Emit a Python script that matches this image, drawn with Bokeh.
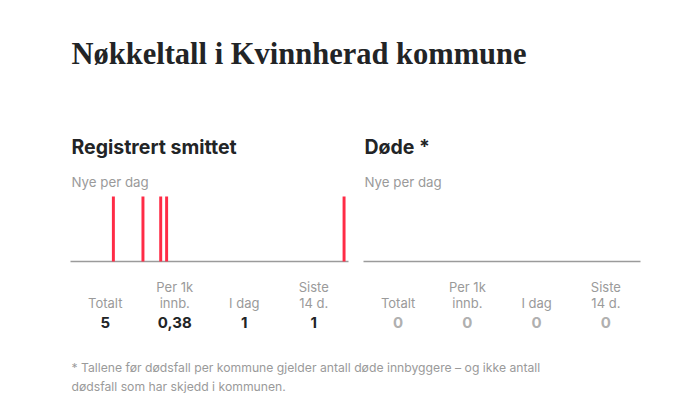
from bokeh.plotting import figure
from bokeh.models import Range1d
from bokeh.core.properties import value
from bokeh.embed import file_html
from bokeh.resources import INLINE

# ---- data ----
title = "Nøkkeltall i Kvinnherad kommune"
panel_titles = ["Registrert smittet", "Døde *"]
sub_label = "Nye per dag"
n_days = 94
case_days = [14, 24, 30, 32, 92]
case_counts = [1, 1, 1, 1, 1]
death_days = []
death_counts = []
stat_line1 = ["", "Per 1k", "", "Siste"]
stat_line2 = ["Totalt", "innb.", "I dag", "14 d."]
case_stats = ["5", "0,38", "1", "1"]
death_stats = ["0", "0", "0", "0"]
footnote = ["* Tallene før dødsfall per kommune gjelder antall døde innbyggere – og ikke antall",
            "dødsfall som har skjedd i kommunen."]

W, H = 682, 397
SANS = value("Inter")
DARK = "#222426"
GREY = "#9a9a9a"

p = figure(width=W, height=H, output_backend="svg", toolbar_location=None,
           x_range=Range1d(0, W), y_range=Range1d(H, 0), min_border=0)
p.axis.visible = False
p.grid.visible = False
p.outline_line_color = None

def X(px):
    return px

def Y(py):
    return py

# chart panels (page coords)
panels = [dict(x0=70, x1=348), dict(x0=363, x1=640)]
bar_top, bar_base = 196, 261

for i, pan in enumerate(panels):
    k = (pan["x1"] - pan["x0"]) / n_days
    xs = -0.5 - X(pan["x0"]) / k
    p.extra_x_ranges["d%d" % i] = Range1d(xs, xs + W / k)
ky = bar_base - bar_top
ys = -(H - Y(bar_base)) / ky
p.extra_y_ranges["v"] = Range1d(ys, ys + H / ky)

# baselines
for i in range(2):
    p.line(x=[-0.5, n_days - 0.5], y=[0, 0], x_range_name="d%d" % i, y_range_name="v",
           line_color="#9b9b9b", line_width=1.5)

# bars
p.vbar(x=case_days, top=case_counts, bottom=0, width=1.0, x_range_name="d0", y_range_name="v",
       fill_color="#ff2b46", line_color=None)
if death_days:
    p.vbar(x=death_days, top=death_counts, bottom=0, width=1.0, x_range_name="d1", y_range_name="v",
           fill_color="#ff2b46", line_color=None)

# title
p.text(x=[X(71)], y=[Y(53)], text=[title], text_font=value("Liberation Serif"),
       text_font_style="bold", text_font_size="30.5px", text_color=DARK, text_baseline="alphabetic")

for i, pan in enumerate(panels):
    p.text(x=[X(pan["x0"] + 1)], y=[Y(146)], text=[panel_titles[i]], text_font=SANS,
           text_font_style="bold", text_font_size="19.5px", text_color=DARK, text_baseline="alphabetic")
    p.text(x=[X(pan["x0"] + 1)], y=[Y(181)], text=[sub_label], text_font=SANS,
           text_font_size="13.3px", text_color=GREY, text_baseline="alphabetic")
    w = pan["x1"] - pan["x0"]
    cx = [X(pan["x0"] + w * (j + 0.5) / 4) for j in range(4)]
    p.text(x=cx, y=[Y(286)] * 4, text=stat_line1, text_font=SANS, text_font_size="13px",
           text_color=GREY, text_align="center", text_baseline="alphabetic")
    p.text(x=cx, y=[Y(302)] * 4, text=stat_line2, text_font=SANS, text_font_size="13px",
           text_color=GREY, text_align="center", text_baseline="alphabetic")
    vals = case_stats if i == 0 else death_stats
    p.text(x=cx, y=[Y(322)] * 4, text=vals, text_font=SANS, text_font_style="bold",
           text_font_size="15px", text_color=DARK if i == 0 else "#b0b0b0",
           text_align="center", text_baseline="alphabetic")

p.text(x=[X(71)] * 2, y=[Y(367), Y(386)], text=footnote, text_font=SANS, text_font_size="12.2px",
       text_color=GREY, text_baseline="alphabetic")

open("out.html", "w").write(file_html(p, INLINE))
